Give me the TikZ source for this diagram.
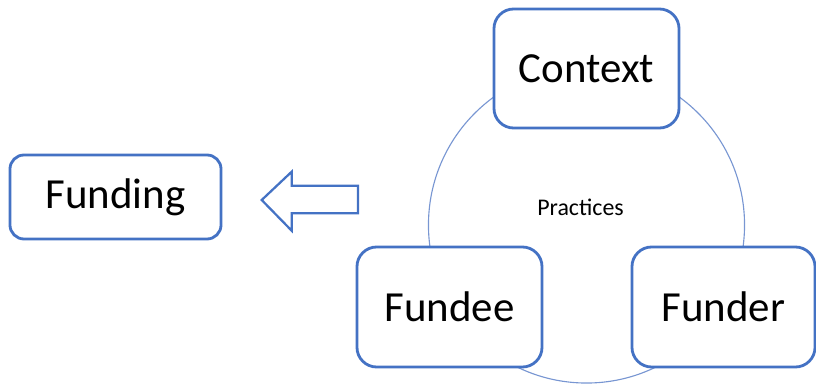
\documentclass[tikz,border=0pt]{standalone}
\usepackage{fontspec}
\setmainfont{Carlito}
\usepackage{xcolor}
\usetikzlibrary{arrows,positioning}
\definecolor{officeblue}{RGB}{68,114,196}
\definecolor{ringblue}{RGB}{120,150,210}

\begin{document}
\begin{tikzpicture}[x=0.025cm,y=-0.025cm,
  actor/.style={draw=officeblue,line width=2pt,fill=white,rounded corners=14pt,
    font=\fontsize{30.5}{36}\selectfont,inner sep=0pt}]
\useasboundingbox (0,0) rectangle (816,385);
\draw [ringblue,line width=0.8pt] (586.5,225) circle [radius=3.95cm];
\node (practices) at (580.5,207) {\fontsize{17}{20}\selectfont Practices};
\node [actor,minimum width=4.625cm,minimum height=2.975cm] (context) at (586.5,68.5) {Context};
\node [actor,minimum width=4.625cm,minimum height=3cm] (fundee) at (449.5,307) {Fundee};
\node [actor,minimum width=4.575cm,minimum height=3cm] (funder) at (723.5,307) {Funder};
\node [actor,minimum width=5.275cm,minimum height=2.1cm,rounded corners=10pt] (funding) at (115.5,197) {Funding};
\draw [officeblue,line width=1.6pt,fill=white,line join=miter]
  (358,185.7) -- (291.7,185.7) -- (291.7,171.7) -- (261.7,200)
  -- (291.7,230.7) -- (291.7,213.3) -- (358,213.3) -- cycle;
\end{tikzpicture}
\end{document}
